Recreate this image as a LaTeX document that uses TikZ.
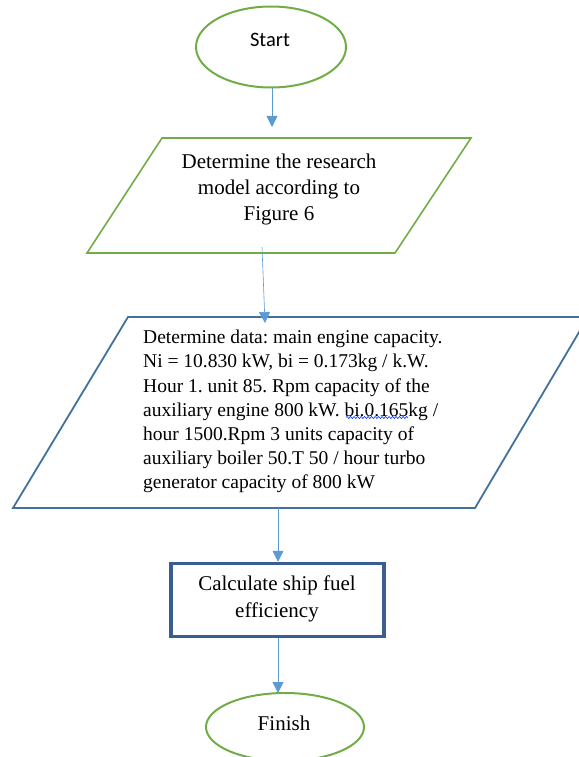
\documentclass[tikz,border=0pt]{standalone}
\usepackage{fontspec}
\setmainfont{Liberation Serif}
\newfontfamily\calib{Carlito}
\usetikzlibrary{arrows.meta,shapes.geometric,decorations.pathmorphing}
\definecolor{ogreen}{HTML}{70AD47}
\definecolor{oblue}{HTML}{5B9BD5}
\definecolor{pblue}{HTML}{41719C}
\definecolor{rblue}{HTML}{3A5F8F}
\frenchspacing
\tikzset{
  x=1pt, y=-1pt,
  flowarrow/.style={draw=oblue, line width=0.9pt, -{Triangle[width=11pt,length=11pt]}},
  termshape/.style={ellipse, draw=ogreen, line width=2pt, inner sep=0pt},
  txt/.style={inner sep=0pt, text=black},
}
\begin{document}
\begin{tikzpicture}
\useasboundingbox (0,0) rectangle (578,757);
% Start
\node[termshape, minimum width=150pt, minimum height=81pt] (start) at (271,47) {};
\node[txt, anchor=base, font=\calib\fontsize{20.5}{24}\selectfont] (starttext) at (270,47) {Start};
% Parallelogram 1
\coordinate (p1a) at (162,138);
\coordinate (p1b) at (471,138);
\coordinate (p1c) at (395,253);
\coordinate (p1d) at (87,253);
\draw[ogreen, line width=1.6pt, line join=miter] (p1a) -- (p1b) -- (p1c) -- (p1d) -- cycle;
\node[txt, anchor=north, align=center, font=\fontsize{21}{26}\selectfont] (model) at (279,153.7)
  {Determine the research\\model according to\\Figure 6};
% Parallelogram 2
\coordinate (p2a) at (128,317);
\coordinate (p2b) at (588,317);
\coordinate (p2c) at (475,508);
\coordinate (p2d) at (13,508);
\draw[pblue, line width=1.8pt, line join=miter] (p2a) -- (p2b) -- (p2c) -- (p2d) -- cycle;
\node[txt, anchor=north west, align=left, font=\fontsize{19.5}{24.2}\selectfont] (data) at (143,330)
  {Determine data: main engine capacity.\\
   Ni = 10.830 kW, bi = 0.173kg / k.W.\\
   Hour 1. unit 85. Rpm capacity of the\\
   auxiliary engine 800 kW. bi.0.165kg /\\
   hour 1500.Rpm 3 units capacity of\\
   auxiliary boiler 50.T 50 / hour turbo\\
   generator capacity of 800 kW};
\coordinate (w1) at (346,417.5);
\coordinate (w2) at (408,417.5);
\draw[blue!80!cyan, line width=0.6pt, decorate, decoration={snake, amplitude=1pt, segment length=3.5pt}] (w1) -- (w2);
% Rectangle
\node[draw=rblue, line width=3.5pt, minimum width=213pt, minimum height=73pt, inner sep=0pt] (calc) at (277.5,600) {};
\node[txt, anchor=north, align=center, font=\fontsize{21}{27}\selectfont] (calctext) at (277,575.7)
  {Calculate ship fuel\\efficiency};
% Finish
\node[termshape, minimum width=158pt, minimum height=68pt] (finish) at (285,727) {};
\node[txt, anchor=base, font=\fontsize{21}{25}\selectfont] (finishtext) at (284,730) {Finish};
% Connectors
\coordinate (a1e) at (272,127);
\coordinate (a2s) at (262,247);
\coordinate (a2e) at (265,323);
\coordinate (a3s) at (278,508);
\coordinate (a4e) at (278,693);
\draw[flowarrow] (start.south -| a1e) -- (a1e);
\draw[flowarrow, line width=0.6pt] (a2s) -- (a2e);
\draw[flowarrow] (a3s) -- (calc.north -| a3s);
\draw[flowarrow] (calc.south -| a4e) -- (a4e);
\end{tikzpicture}
\end{document}
